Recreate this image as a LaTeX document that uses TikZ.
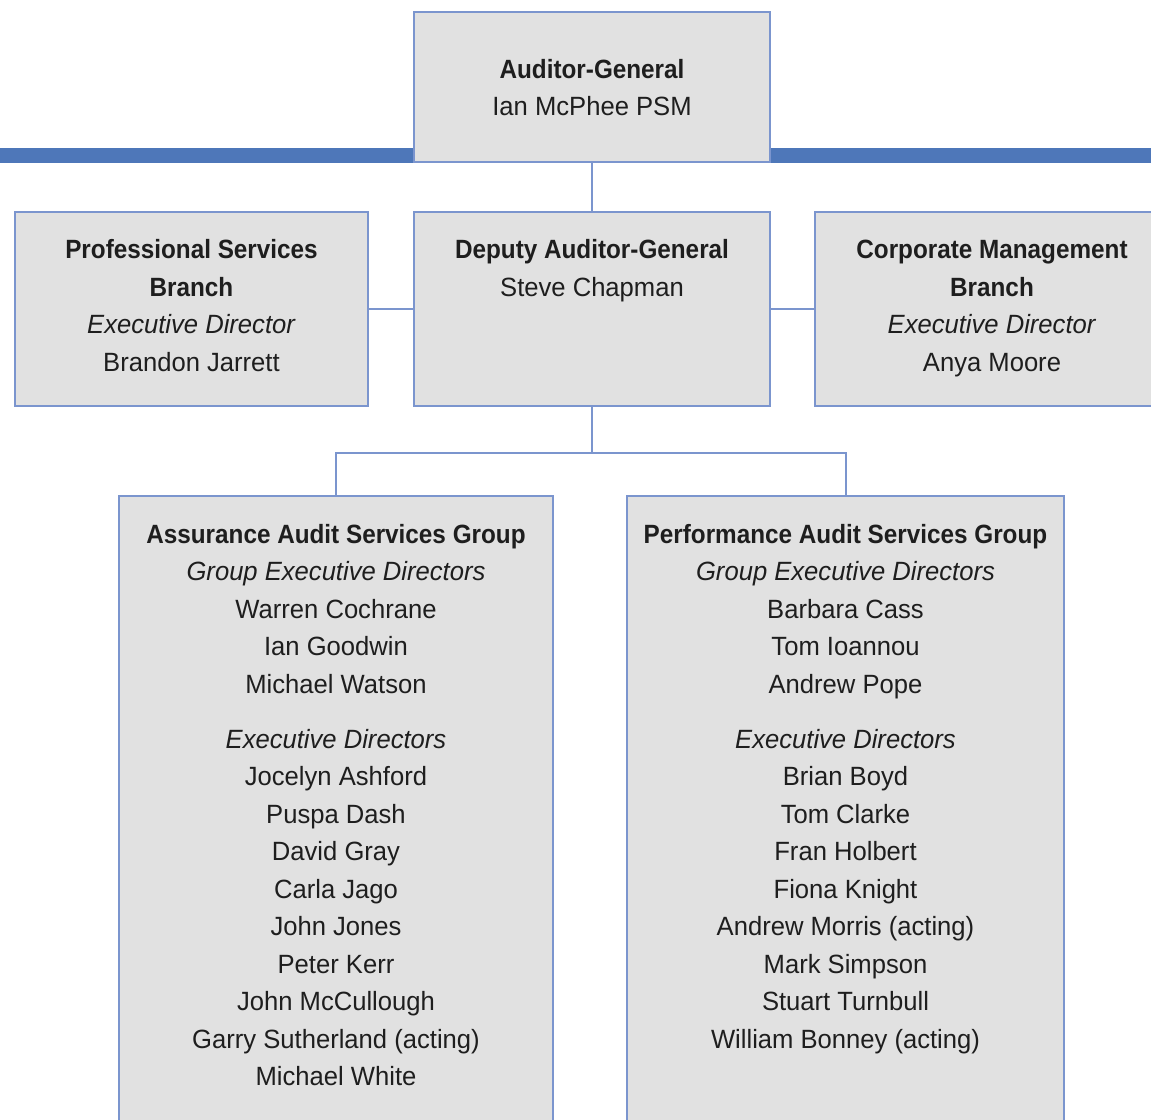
\documentclass[tikz,border=0pt]{standalone}
\usepackage{fontspec}
\setmainfont{Liberation Sans}[FakeStretch=0.97,BoldFeatures={FakeStretch=0.92}]
\definecolor{boxgray}{HTML}{E1E1E1}
\definecolor{edgeblue}{HTML}{7B95CE}
\definecolor{barblue}{HTML}{4E77B9}
\definecolor{txtgray}{HTML}{1E1E1E}

\begin{document}
\begin{tikzpicture}[x=0.5pt,y=-0.5pt]

      \useasboundingbox (0,0) rectangle (1151,1119);
      \fill[barblue] (0,148) rectangle (1151,163);

      \begin{scope}[every node/.style={rectangle,draw=edgeblue,line width=1pt,fill=boxgray,inner sep=0pt}]
        \node[minimum width=178pt,minimum height=75pt]   (ag)   at (592,87)    {};
        \node[minimum width=178pt,minimum height=97pt]   (dag)  at (592,309)   {};
        \node[minimum width=176.5pt,minimum height=97pt] (psb)  at (191.5,309) {};
        \node[minimum width=177pt,minimum height=97pt]   (cmb)  at (992,309)   {};
        \node[minimum width=217pt,minimum height=322pt]  (aasg) at (336,818)   {};
        \node[minimum width=218.5pt,minimum height=322pt] (pasg) at (845.5,818) {};
      \end{scope}

      \begin{scope}[every node/.style={anchor=north,align=center,inner sep=0pt,text=txtgray,font=\fontsize{13.2}{18.75}\selectfont}]
        \node[yshift=-20.4pt] (ag-t) at (ag.north)
          {\strut\textbf{Auditor-General}\\Ian McPhee PSM};
        \node[yshift=-10.6pt] (dag-t) at (dag.north)
          {\strut\textbf{Deputy Auditor-General}\\Steve Chapman};
        \node[yshift=-10.6pt] (psb-t) at (psb.north)
          {\strut\textbf{Professional Services}\\\textbf{Branch}\\\textit{Executive Director}\\Brandon Jarrett};
        \node[yshift=-10.6pt] (cmb-t) at (cmb.north)
          {\strut\textbf{Corporate Management}\\\textbf{Branch}\\\textit{Executive Director}\\Anya Moore};
        \node[yshift=-10.9pt] (aasg-t) at (aasg.north)
          {\strut\textbf{Assurance Audit Services Group}\\\textit{Group Executive Directors}\\
           Warren Cochrane\\Ian Goodwin\\Michael Watson\\[8.75pt]
           \textit{Executive Directors}\\Jocelyn Ashford\\Puspa Dash\\David Gray\\Carla Jago\\
           John Jones\\Peter Kerr\\John McCullough\\Garry Sutherland (acting)\\Michael White};
        \node[yshift=-10.9pt] (pasg-t) at (pasg.north)
          {\strut\textbf{Performance Audit Services Group}\\\textit{Group Executive Directors}\\
           Barbara Cass\\Tom Ioannou\\Andrew Pope\\[8.75pt]
           \textit{Executive Directors}\\Brian Boyd\\Tom Clarke\\Fran Holbert\\Fiona Knight\\
           Andrew Morris (acting)\\Mark Simpson\\Stuart Turnbull\\William Bonney (acting)};
      \end{scope}

      \coordinate (split) at ([yshift=-23pt]dag.south);

      \begin{scope}[every edge/.style={draw=edgeblue,line width=1pt}]
        \path (ag)   edge (dag);
        \path (psb)  edge (dag);
        \path (dag)  edge (cmb);
        \path (dag)  edge (split);
      \end{scope}

      \draw[edgeblue,line width=1pt] (aasg.north) |- (split) -| (pasg.north);

    \end{tikzpicture}
\end{document}
